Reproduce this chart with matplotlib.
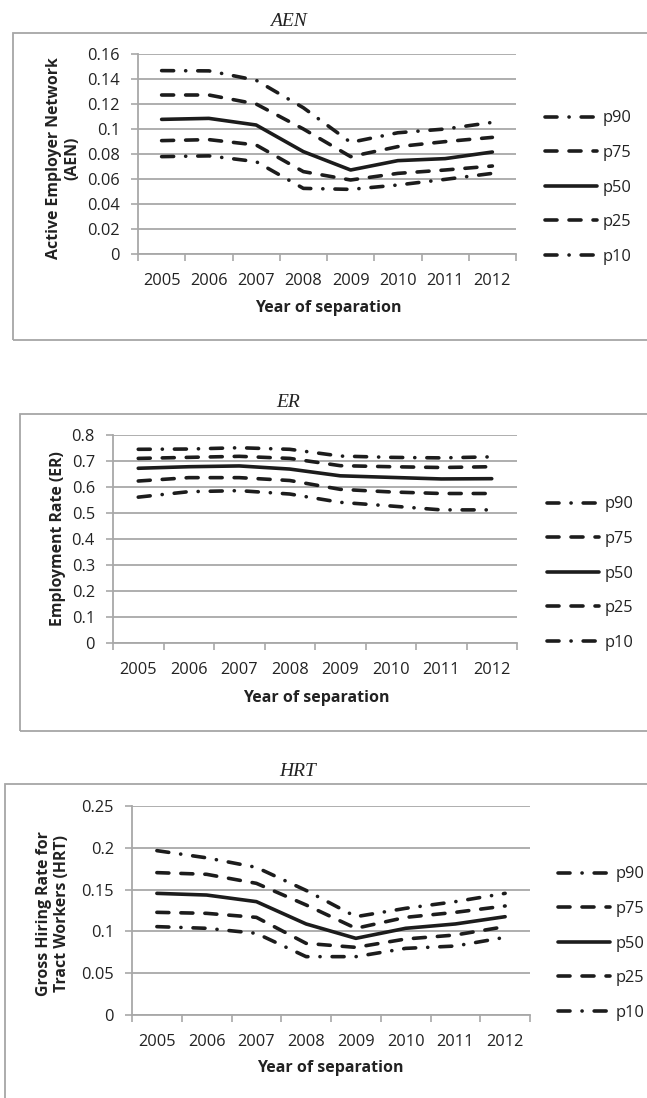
import matplotlib
matplotlib.use('Agg')
import matplotlib.pyplot as plt
from matplotlib.patches import Rectangle
from matplotlib.ticker import FixedLocator, NullFormatter, FixedFormatter

plt.rcParams['lines.scale_dashes'] = False

years = ['2005', '2006', '2007', '2008', '2009', '2010', '2011', '2012']
series_labels = ['p90', 'p75', 'p50', 'p25', 'p10']

aen_p90 = [0.1467, 0.1465, 0.1390, 0.1170, 0.0893, 0.0970, 0.1000, 0.1053]
aen_p75 = [0.1272, 0.1272, 0.1200, 0.1000, 0.0779, 0.0859, 0.0899, 0.0933]
aen_p50 = [0.1077, 0.1085, 0.1032, 0.0819, 0.0672, 0.0747, 0.0763, 0.0816]
aen_p25 = [0.0907, 0.0915, 0.0872, 0.0659, 0.0592, 0.0645, 0.0672, 0.0704]
aen_p10 = [0.0779, 0.0785, 0.0739, 0.0525, 0.0517, 0.0552, 0.0597, 0.0645]

er_p90 = [0.745, 0.746, 0.751, 0.745, 0.719, 0.714, 0.712, 0.716]
er_p75 = [0.710, 0.714, 0.718, 0.710, 0.682, 0.678, 0.675, 0.678]
er_p50 = [0.672, 0.678, 0.681, 0.669, 0.643, 0.637, 0.631, 0.632]
er_p25 = [0.623, 0.636, 0.636, 0.625, 0.591, 0.581, 0.575, 0.575]
er_p10 = [0.561, 0.582, 0.586, 0.573, 0.541, 0.527, 0.512, 0.512]

hrt_p90 = [0.1966, 0.1880, 0.1766, 0.1490, 0.1176, 0.1276, 0.1356, 0.1455]
hrt_p75 = [0.1703, 0.1683, 0.1575, 0.1316, 0.1037, 0.1168, 0.1228, 0.1304]
hrt_p50 = [0.1455, 0.1435, 0.1356, 0.1089, 0.0917, 0.1037, 0.1089, 0.1176]
hrt_p25 = [0.1228, 0.1216, 0.1168, 0.0857, 0.0809, 0.0909, 0.0957, 0.1057]
hrt_p10 = [0.1057, 0.1037, 0.0977, 0.0698, 0.0698, 0.0797, 0.0825, 0.0929]

aen_ticks = [0, 0.02, 0.04, 0.06, 0.08, 0.1, 0.12, 0.14, 0.16]
er_ticks = [0, 0.1, 0.2, 0.3, 0.4, 0.5, 0.6, 0.7, 0.8]
hrt_ticks = [0, 0.05, 0.1, 0.15, 0.2, 0.25]

W, H = 647, 1098
fig = plt.figure(figsize=(W / 100, H / 100), dpi=100)

TICK_FONT = 'Open Sans'
LINE_COLOR = '#1c1c1c'
GRID = '#a8a8a8'
PT = 0.72  # points per pixel
LW = 3.6 * PT

dash_long = (0, (12 * PT, 12 * PT))
dash_dot = (0, (12 * PT, 12 * PT, 0.1, 12 * PT))
styles = {'p90': dash_dot, 'p75': dash_long, 'p50': '-', 'p25': dash_long, 'p10': dash_dot}


def axes_rect(x0, x1, ytop, ybot):
    return [x0 / W, 1 - ybot / H, (x1 - x0) / W, (ybot - ytop) / H]


def frame(x0, y0, x1, y1):
    fig.add_artist(Rectangle((x0 / W, 1 - y1 / H), (x1 - x0) / W, (y1 - y0) / H,
                             transform=fig.transFigure, fill=False,
                             edgecolor='#a6a6a6', linewidth=1.3, clip_on=False))


def panel(rect, data, ticks, title, title_xy, ylabel, ylabel_xy, xlabel_xy, legend_xy):
    ax = fig.add_axes(rect)
    x = list(range(len(years)))
    handles = []
    for lab, vals in zip(series_labels, data):
        ln, = ax.plot(x, vals, color=LINE_COLOR, linewidth=LW, linestyle=styles[lab],
                      dash_capstyle='round', solid_capstyle='round', label=lab)
        handles.append(ln)
    ax.set_xlim(-0.5, len(years) - 0.5)
    ax.set_ylim(ticks[0], ticks[-1])
    ax.xaxis.set_major_locator(FixedLocator([i - 0.5 for i in range(len(years) + 1)]))
    ax.xaxis.set_major_formatter(NullFormatter())
    ax.xaxis.set_minor_locator(FixedLocator(x))
    ax.xaxis.set_minor_formatter(FixedFormatter(years))
    ax.set_yticks(ticks)
    ax.set_yticklabels(['{:g}'.format(t) for t in ticks])
    ax.tick_params(axis='x', which='major', length=5, width=1.2, color=GRID, direction='out')
    ax.tick_params(axis='x', which='minor', length=0, pad=14, labelsize=11.8, labelcolor='#222222')
    ax.tick_params(axis='y', length=5, width=1.2, color=GRID, direction='out', pad=8,
                   labelsize=11.8, labelcolor='#222222')
    for lbl in ax.get_xticklabels(minor=True) + ax.get_yticklabels():
        lbl.set_family(TICK_FONT)
    ax.grid(axis='y', color=GRID, linewidth=1.3)
    ax.set_axisbelow(True)
    for s in ['top', 'right']:
        ax.spines[s].set_visible(False)
    for s in ['left', 'bottom']:
        ax.spines[s].set_color(GRID)
        ax.spines[s].set_linewidth(1.3)

    fig.text(title_xy[0] / W, 1 - title_xy[1] / H, title, ha='center', va='center',
             family='Liberation Serif', style='italic', fontsize=14, color='#222222')
    fig.text(ylabel_xy[0] / W, 1 - ylabel_xy[1] / H, ylabel, ha='center', va='center',
             rotation=90, family=TICK_FONT, weight='bold', fontsize=11.4, color='#222222',
             linespacing=1.2, multialignment='center')
    fig.text(xlabel_xy[0] / W, 1 - xlabel_xy[1] / H, 'Year of separation', ha='center',
             va='center', family=TICK_FONT, weight='bold', fontsize=11.5, color='#222222')
    leg = fig.legend(handles=handles, labels=series_labels, loc='center left',
                     bbox_to_anchor=(legend_xy[0] / W, 1 - legend_xy[1] / H), frameon=False,
                     handlelength=3.2, handletextpad=0.3, labelspacing=1.13,
                     prop={'family': TICK_FONT, 'size': 11.8}, borderaxespad=0,
                     borderpad=0)
    for t in leg.get_texts():
        t.set_color('#222222')
    return ax


frame(13, 33, W + 10, 340)
frame(20, 414, W + 10, 731)
frame(5, 784, W + 10, H + 10)

panel(axes_rect(138, 516, 54, 254),
      [aen_p90, aen_p75, aen_p50, aen_p25, aen_p10], aen_ticks, 'AEN', (288, 22),
      'Active Employer Network\n(AEN)', (63, 158), (328, 308), (545, 187.5))

panel(axes_rect(113, 517, 435, 643),
      [er_p90, er_p75, er_p50, er_p25, er_p10], er_ticks, 'ER', (288, 403),
      'Employment Rate (ER)', (58, 539), (316, 698), (547, 573.5))

panel(axes_rect(132, 530, 806, 1015),
      [hrt_p90, hrt_p75, hrt_p50, hrt_p25, hrt_p10], hrt_ticks, 'HRT', (298, 772),
      'Gross Hiring Rate for\nTract Workers (HRT)', (53, 914), (330, 1068), (558, 943.5))

fig.savefig('out.png', dpi=100)
